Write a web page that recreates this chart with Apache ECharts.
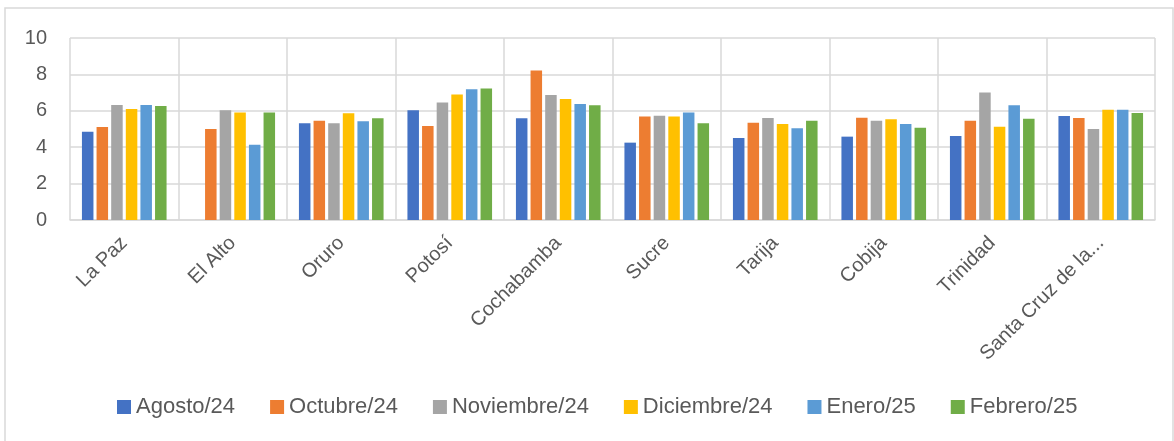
<!DOCTYPE html>
<html>
<head>
<meta charset="utf-8">
<script src="https://cdn.jsdelivr.net/npm/echarts@6/dist/echarts.min.js"></script>
<style>
  html, body { margin: 0; padding: 0; background: #fff; }
  #myChart { width: 1174px; height: 441px; }
</style>
</head>
<body>
<div id="myChart"></div>
<script>
// categorias (ciudades)
var cities = ["La Paz", "El Alto", "Oruro", "Potosí", "Cochabamba", "Sucre", "Tarija", "Cobija", "Trinidad", "Santa Cruz de la..."];
var months = ["Agosto/24", "Octubre/24", "Noviembre/24", "Diciembre/24", "Enero/25", "Febrero/25"];
var colors = ["#4472C4", "#ED7D31", "#A5A5A5", "#FFC000", "#5B9BD5", "#70AD47"];

var agosto24 = [4.85, null, 5.31, 6.03, 5.59, 4.25, 4.51, 4.58, 4.62, 5.71];
var octubre24 = [5.11, 5.0, 5.46, 5.16, 8.21, 5.68, 5.35, 5.62, 5.46, 5.6];
var noviembre24 = [6.32, 6.03, 5.31, 6.45, 6.87, 5.73, 5.6, 5.46, 7.01, 5.0];
var diciembre24 = [6.1, 5.9, 5.86, 6.89, 6.65, 5.68, 5.27, 5.53, 5.13, 6.06];
var enero25 = [6.32, 4.14, 5.42, 7.18, 6.37, 5.9, 5.04, 5.27, 6.3, 6.06];
var febrero25 = [6.26, 5.9, 5.59, 7.22, 6.3, 5.31, 5.46, 5.07, 5.57, 5.88];

var yTicks = { min: 0, max: 10, interval: 2 };

var seriesData = [agosto24, octubre24, noviembre24, diciembre24, enero25, febrero25];
var font = "Liberation Sans";

var chart = echarts.init(document.getElementById("myChart"));
chart.setOption({
  animation: false,
  color: colors,
  textStyle: { fontFamily: font },
  graphic: [
    {
      type: "rect",
      shape: { x: 5, y: 8, width: 1168, height: 440 },
      style: { fill: "none", stroke: "#d9d9d9", lineWidth: 1.5 },
      silent: true,
    },
  ],
  legend: {
    top: 391,
    left: 112,
    itemWidth: 14,
    itemHeight: 14,
    itemGap: 35,
    icon: "rect",
    textStyle: { fontSize: 22, color: "#595959", fontFamily: font },
    data: months,
  },
  grid: {
    left: 70,
    right: 19,
    top: 38,
    bottom: 221,
  },
  xAxis: {
    type: "category",
    data: cities,
    axisTick: { show: false },
    axisLine: { lineStyle: { color: "#d9d9d9", width: 1.5 } },
    splitLine: { show: true, lineStyle: { color: "#d9d9d9", width: 1.5 } },
    axisLabel: {
      rotate: 45,
      fontSize: 20,
      color: "#595959",
      margin: 20,
      interval: 0,
    },
  },
  yAxis: {
    type: "value",
    min: yTicks.min,
    max: yTicks.max,
    interval: yTicks.interval,
    axisLine: { show: false },
    axisTick: { show: false },
    splitLine: { lineStyle: { color: "#d9d9d9", width: 1.5 } },
    axisLabel: { fontSize: 20, color: "#595959", margin: 23 },
  },
  series: seriesData.map(function (d, i) {
    return {
      name: months[i],
      type: "bar",
      data: d,
      barGap: "27%",
      barCategoryGap: "22%",
    };
  }),
});
</script>
</body>
</html>
